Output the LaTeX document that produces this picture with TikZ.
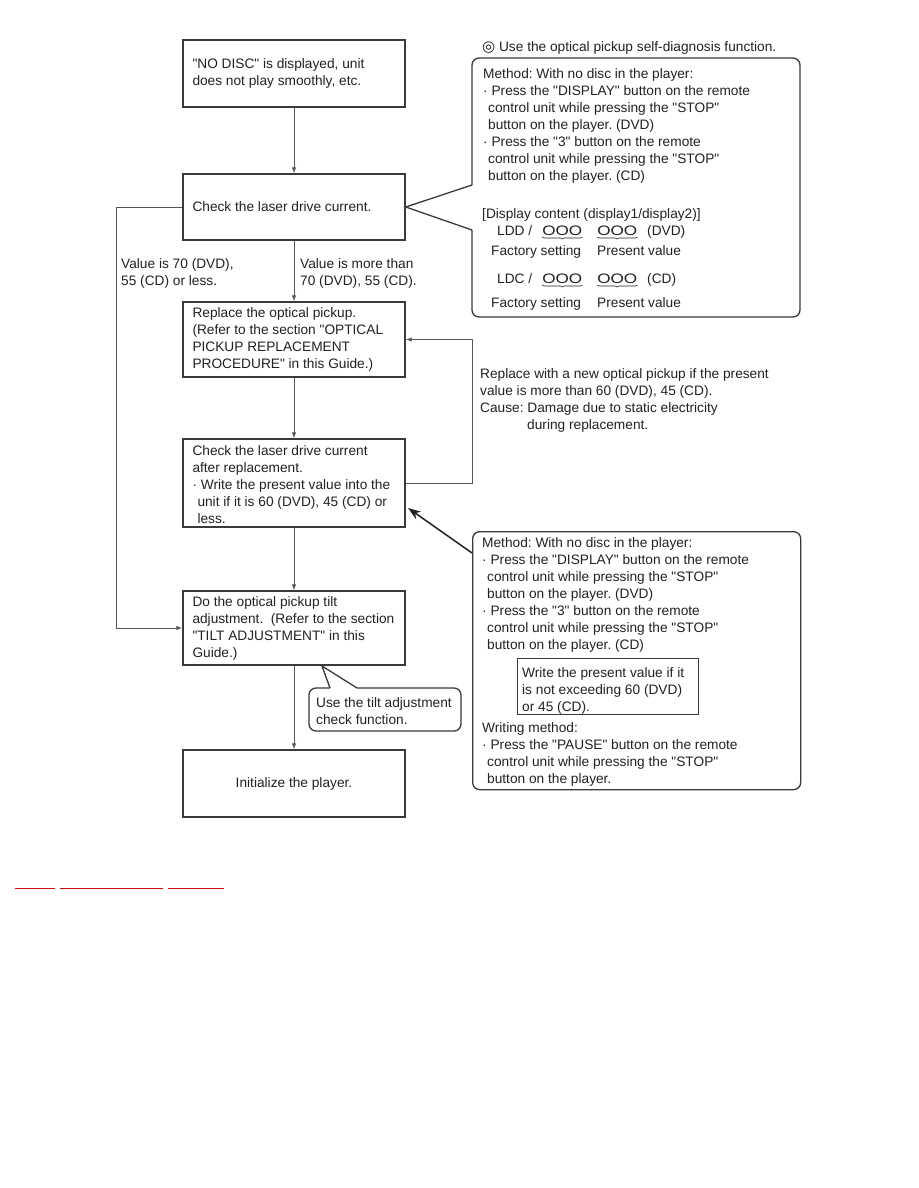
\documentclass[tikz,border=0pt]{standalone}
\usepackage{fontspec}
\setmainfont{Liberation Sans}[Ligatures=TeXOff]
\newfontfamily\symfont{DejaVu Sans}
\usetikzlibrary{arrows.meta,decorations.pathreplacing}
\definecolor{txt}{HTML}{222222}
\definecolor{bord}{HTML}{3A3A3A}
\definecolor{lin}{HTML}{555555}
\definecolor{linkred}{HTML}{D01010}
\frenchspacing
\begin{document}
\begin{tikzpicture}[x=1pt,y=-1pt,
  every node/.style={font=\fontsize{13.7}{17}\selectfont, text=txt},
  box/.style={draw=bord, line width=1.4pt, minimum width=222pt, inner sep=0pt},
  boxtxt/.style={anchor=west, align=left, inner sep=0pt},
  conn/.style={draw=lin, line width=0.9pt, -{Latex[length=6pt,width=4.5pt]}},
  bigarrow/.style={draw=txt, line width=1.5pt, -{Stealth[length=13pt,width=9pt]}},
  txtblk/.style={anchor=base west, align=left, inner sep=0pt},
  circs/.style={anchor=base west, inner sep=0pt, transform shape, xscale=1.25},
  bubble/.style={draw=bord, line width=1.3pt, rounded corners=7pt},
  wedge/.style={draw=bord, line width=1.3pt},
  brc/.style={draw=txt, line width=0.6pt, decorate, decoration={brace, mirror, amplitude=2pt}}]

\useasboundingbox[fill=white] (0,0) rectangle (918,1188);

% ---------------- main flow boxes ----------------
\node[box, minimum height=67pt] (b1) at (294,73.5) {};
\node[box, minimum height=66pt] (b2) at (294,207) {};
\node[box, minimum height=75pt] (b3) at (294,339.5) {};
\node[box, minimum height=88pt] (b4) at (294,483) {};
\node[box, minimum height=74pt] (b5) at (294,628) {};
\node[box, minimum height=67pt] (b6) at (294,783.5) {};

\node[boxtxt] (t1) at ([xshift=10pt]b1.west)
  {"NO DISC" is displayed, unit\\does not play smoothly, etc.};
\node[boxtxt] (t2) at ([xshift=10pt]b2.west)
  {Check the laser drive current.};
\node[boxtxt] (t3) at ([xshift=10pt]b3.west)
  {Replace the optical pickup.\\(Refer to the section "OPTICAL\\PICKUP REPLACEMENT\\PROCEDURE" in this Guide.)};
\node[boxtxt] (t4) at ([xshift=10pt,yshift=-1.5pt]b4.west)
  {Check the laser drive current\\after replacement.\\\textperiodcentered\ Write the present value into the\\\hspace*{5pt}unit if it is 60 (DVD), 45 (CD) or\\\hspace*{5pt}less.};
\node[boxtxt] (t5) at ([xshift=10pt]b5.west)
  {Do the optical pickup tilt\\adjustment.\ \ (Refer to the section\\"TILT ADJUSTMENT" in this\\Guide.)};
\node[inner sep=0pt] (t6) at (b6.center) {Initialize the player.};

% ---------------- connectors ----------------
\draw[conn] (b1) -- (b2);
\draw[conn] (b2) -- (b3);
\draw[conn] (b3) -- (b4);
\draw[conn] (b4) -- (b5);
\draw[conn] (b5) -- (b6);
\draw[conn] (b2.west) -- ++(-66,0) |- (b5.west);
\draw[conn] (b4.east) -- ++(67,0) |- (b3.east);

\node[txtblk] (lblL) at (121,285) {Value is 70 (DVD),\\55 (CD) or less.};
\node[txtblk] (lblR) at (300,285) {Value is more than\\70 (DVD), 55 (CD).};

% ---------------- top-right callout ----------------
\node[txtblk] (title) at (482,52) {{\symfont\fontsize{15}{17}\selectfont ◎} Use the optical pickup self-diagnosis function.};
\coordinate (ca1) at (472,185);
\coordinate (ca2) at (472,230);
\draw[bubble] (ca2) -- (472,317) -- (800,317) -- (800,58) -- (472,58) -- (ca1);
\draw[wedge, line join=miter] (ca1) -- (b2.east) -- (ca2);

\node[txtblk] (mA) at (483,180)
  {Method: With no disc in the player:\\
   \textperiodcentered\ Press the "DISPLAY" button on the remote\\
   \hspace*{5pt}control unit while pressing the "STOP"\\
   \hspace*{5pt}button on the player. (DVD)\\
   \textperiodcentered\ Press the "3" button on the remote\\
   \hspace*{5pt}control unit while pressing the "STOP"\\
   \hspace*{5pt}button on the player. (CD)};
\node[txtblk] (dc) at (482,218) {[Display content (display1/display2)]};

\node[txtblk] (ldd) at (497,235) {LDD /};
\node[circs] (o1) at (542,235) {OOO};
\node[circs] (o2) at (597,235) {OOO};
\node[txtblk] (dvd) at (647,235) {(DVD)};
\draw[brc] ([yshift=-2pt]o1.base west) -- ([yshift=-2pt]o1.base east);
\draw[brc] ([yshift=-2pt]o2.base west) -- ([yshift=-2pt]o2.base east);
\node[txtblk] (fs1) at (491,255) {Factory setting};
\node[txtblk] (pv1) at (597,255) {Present value};

\node[txtblk] (ldc) at (497,283) {LDC /};
\node[circs] (o3) at (542,283) {OOO};
\node[circs] (o4) at (597,283) {OOO};
\node[txtblk] (cd) at (647,283) {(CD)};
\draw[brc] ([yshift=-2pt]o3.base west) -- ([yshift=-2pt]o3.base east);
\draw[brc] ([yshift=-2pt]o4.base west) -- ([yshift=-2pt]o4.base east);
\node[txtblk] (fs2) at (491,307) {Factory setting};
\node[txtblk] (pv2) at (597,307) {Present value};

% ---------------- middle note ----------------
\node[txtblk] (note) at (480,429)
  {Replace with a new optical pickup if the present\\
   value is more than 60 (DVD), 45 (CD).\\
   Cause: Damage due to static electricity\\
   \hspace*{47pt}during replacement.};

% ---------------- lower-right callout ----------------
\node[bubble, minimum width=328pt, minimum height=258pt, anchor=north west, inner sep=0pt] (callB) at (472,531) {};
\coordinate (tb) at (472,553);
\coordinate (tip) at (408,508);
\draw[bigarrow] (tb) -- (tip);

\node[txtblk] (mB) at (482,649)
  {Method: With no disc in the player:\\
   \textperiodcentered\ Press the "DISPLAY" button on the remote\\
   \hspace*{5pt}control unit while pressing the "STOP"\\
   \hspace*{5pt}button on the player. (DVD)\\
   \textperiodcentered\ Press the "3" button on the remote\\
   \hspace*{5pt}control unit while pressing the "STOP"\\
   \hspace*{5pt}button on the player. (CD)};
\node[draw=bord, line width=1.2pt, minimum width=181pt, minimum height=56pt, anchor=north west, inner sep=0pt] (wbox) at (517,658) {};
\node[txtblk] (wtxt) at (522,711)
  {Write the present value if it\\is not exceeding 60 (DVD)\\or 45 (CD).};
\node[txtblk] (wm) at (482,783)
  {Writing method:\\
   \textperiodcentered\ Press the "PAUSE" button on the remote\\
   \hspace*{5pt}control unit while pressing the "STOP"\\
   \hspace*{5pt}button on the player.};

% ---------------- small callout ----------------
\coordinate (sc1) at (330,688);
\coordinate (sc2) at (357,688);
\coordinate (sctip) at (322,666);
\draw[bubble] (sc2) -- (461,688) -- (461,731) -- (309,731) -- (309,688) -- (sc1);
\draw[wedge, line join=miter] (sc1) -- (sctip) -- (sc2);
\node[txtblk] (stxt) at (316,724) {Use the tilt adjustment\\check function.};

% ---------------- red link lines ----------------
\draw[linkred, line width=1pt] (15,888) -- (55,888);
\draw[linkred, line width=1pt] (60,888) -- (163,888);
\draw[linkred, line width=1pt] (168,888) -- (224,888);
\end{tikzpicture}
\end{document}
